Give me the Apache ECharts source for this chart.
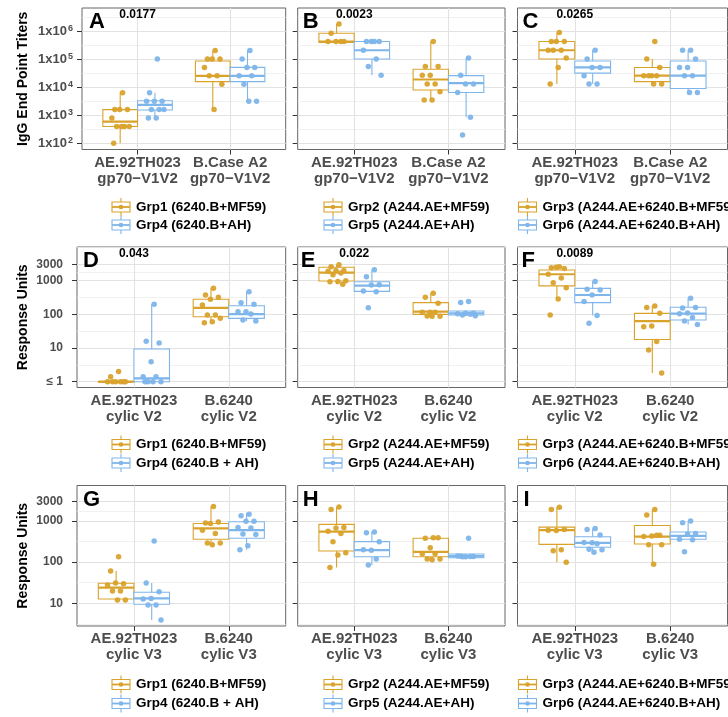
<!DOCTYPE html>
<html>
<head>
<meta charset="utf-8">
<script src="https://cdn.jsdelivr.net/npm/echarts@6/dist/echarts.min.js"></script>
<style>
html,body{margin:0;padding:0;background:#fff;}
#chart{width:728px;height:717px;}
</style>
</head>
<body>
<div id="chart"></div>
<script>
// ---- categories and axis ticks ----
const catsRow1 = ['AE.92TH023\ngp70\u2212V1V2', 'B.Case A2\ngp70\u2212V1V2'];
const catsRow2 = ['AE.92TH023\ncylic V2', 'B.6240\ncylic V2'];
const catsRow3 = ['AE.92TH023\ncylic V3', 'B.6240\ncylic V3'];

const ticksRow1 = [100, 1000, 10000, 100000, 1000000];
const tickExpRow1 = ['2', '3', '4', '5', '6'];
const ticksRow2 = [1, 10, 100, 1000, 3000];
const tickLabelsRow2 = ['\u2264 1', '10', '100', '1000', '3000'];
const ticksRow3 = [10, 100, 1000, 3000];
const tickLabelsRow3 = ['10', '100', '1000', '3000'];

// ---- group names (legend) ----
const namesCol1Row1 = ['Grp1 (6240.B+MF59)', 'Grp4 (6240.B+AH)'];
const namesCol1 = ['Grp1 (6240.B+MF59)', 'Grp4 (6240.B + AH)'];
const namesCol2 = ['Grp2 (A244.AE+MF59)', 'Grp5 (A244.AE+AH)'];
const namesCol3 = ['Grp3 (A244.AE+6240.B+MF59)', 'Grp6 (A244.AE+6240.B+AH)'];

// ---- p-values ----
const pValues = { A: '0.0177', B: '0.0023', C: '0.0265', D: '0.043', E: '0.022', F: '0.0089' };

// ---- box statistics per category: [lower whisker, Q1, median, Q3, upper whisker] ----
// ---- and individual animal values per category ----
// Panel A: IgG end point titers
const boxA1 = [[100, 400, 600, 1600, 6400], [1600, 16000, 25600, 87000, 204800]];
const ptsA1 = [[6400, 1600, 1600, 1600, 800, 400, 400, 400, 400, 100],
               [204800, 102400, 102400, 102400, 51200, 25600, 25600, 12800, 1600]];
const boxA4 = [[800, 1550, 2350, 3300, 6400], [3200, 16000, 25600, 51200, 204800]];
const ptsA4 = [[102400, 6400, 3200, 3200, 3200, 1600, 1600, 1600, 800, 800],
               [204800, 102400, 51200, 51200, 25600, 25600, 12800, 3200, 3200]];
// Panel B
const boxB2 = [[400000, 400000, 430000, 850000, 1800000], [3500, 8000, 19000, 44000, 430000]];
const ptsB2 = [[1800000, 850000, 430000, 430000, 430000, 430000],
               [430000, 55000, 55000, 27000, 27000, 13000, 13000, 6900, 3500, 3500]];
const boxB5 = [[27000, 102000, 210000, 430000, 430000], [850, 6500, 14000, 26000, 110000]];
const ptsB5 = [[430000, 430000, 430000, 430000, 210000, 102000, 55000, 27000],
               [110000, 27000, 13000, 13000, 6500, 850, 200]];
// Panel C
const boxC3 = [[13000, 102000, 210000, 430000, 910000], [13000, 16000, 26000, 51000, 102000]];
const ptsC3 = [[910000, 430000, 430000, 430000, 210000, 210000, 210000, 110000, 51000, 13000],
               [430000, 102000, 51000, 26000, 26000, 26000, 26000, 13000, 13000]];
const boxC6 = [[13000, 32000, 51000, 87000, 210000], [6500, 9100, 26000, 87000, 210000]];
const ptsC6 = [[210000, 102000, 51000, 51000, 26000, 13000, 13000],
               [210000, 210000, 102000, 51000, 51000, 26000, 26000, 6500, 6500]];
// Panel D: response units, cyclic V2
const boxD1 = [[1, 1, 1, 1, 1], [56, 85, 156, 280, 600]];
const ptsD1 = [[2, 1.4, 1, 1, 1, 1, 1, 1],
               [600, 375, 320, 280, 190, 95, 95, 76, 60, 56]];
const boxD4 = [[1, 1, 1.26, 9.4, 200], [63, 76, 102, 180, 470]];
const ptsD4 = [[200, 16, 14, 3.9, 1.4, 1.4, 1, 1, 1, 1],
               [470, 220, 200, 120, 120, 102, 68, 63]];
// Panel E
const boxE2 = [[780, 980, 1730, 2500, 2950], [88, 100, 120, 223, 425]];
const ptsE2 = [[2950, 2600, 2000, 2000, 1900, 1700, 1500, 1000, 950, 930, 780],
               [425, 320, 213, 115, 115, 115, 90, 88, 88]];
const boxE5 = [[470, 480, 710, 930, 2100], [90, 96, 107, 126, 126]];
const ptsE5 = [[2100, 1300, 760, 740, 490, 470, 158],
               [240, 225, 107, 107, 105, 100, 95, 91]];
// Panel F
const boxF3 = [[288, 700, 1550, 2080, 2600], [1.8, 18, 63, 107, 178]];
const ptsF3 = [[2600, 2400, 2300, 2500, 1550, 1200, 870, 620, 288, 96],
               [178, 160, 107, 45, 43, 15.5, 8.7, 1.8]];
const boxF6 = [[93, 223, 375, 590, 950], [50, 68, 105, 162, 300]];
const ptsF6 = [[950, 560, 530, 375, 240, 93, 54],
               [300, 155, 160, 110, 105, 80, 63, 50]];
// Panel G: response units, cyclic V3
const boxG1 = [[12, 12.7, 24, 30.6, 61], [265, 360, 660, 870, 2250]];
const ptsG1 = [[135, 61, 30, 31, 28, 20, 20, 12, 12],
               [2250, 890, 950, 870, 600, 500, 290, 290, 265]];
const boxG4 = [[3.9, 9.5, 13.2, 18.5, 31], [200, 380, 600, 960, 1550]];
const ptsG4 = [[325, 31, 19, 13, 12.7, 9.1, 9.1, 3.9],
               [1450, 1350, 980, 980, 700, 680, 480, 470, 250, 200]];
// Panel H
const boxH2 = [[74, 187, 550, 830, 2200], [115, 135, 178, 380, 400]];
const ptsH2 = [[2200, 1900, 700, 680, 560, 500, 315, 170, 150, 74],
               [390, 380, 390, 225, 160, 160, 120, 120, 115]];
const boxH5 = [[85, 135, 195, 315, 540], [128, 128, 140, 158, 158]];
const ptsH5 = [[540, 520, 315, 195, 200, 120, 85],
               [380, 140, 138, 135, 142, 138, 136]];
// Panel I
const boxI3 = [[100, 270, 600, 710, 2150], [89, 277, 415, 780, 1900]];
const ptsI3 = [[2150, 1900, 620, 590, 600, 200, 190, 100],
               [1900, 1400, 450, 430, 420, 450, 265, 265, 89]];
const boxI6 = [[175, 230, 295, 415, 660], [360, 360, 435, 540, 1000]];
const ptsI6 = [[660, 620, 460, 295, 300, 280, 205, 200, 175],
               [1000, 910, 500, 480, 360, 350, 178]];

// ---- styling and layout ----
const FONT = '"Liberation Sans", Arial, Helvetica, sans-serif';
const ORANGE = '#D9A22B';
const BLUE = '#7EB5EA';
const COLORS = [ORANGE, BLUE];
const BOX_W = 0.375, DODGE = 0.1875, JIT = 0.11;
const L = Math.log10;

function minorBreaks(majors, min, max) {
  const b = majors.slice();
  const bd = b[1] - b[0];
  if (min < b[0]) b.unshift(b[0] - bd);
  if (max > b[b.length - 1]) b.push(b[b.length - 1] + bd);
  const out = [];
  for (let k = 0; k < b.length - 1; k++) {
    const m = (b[k] + b[k + 1]) / 2;
    if (m > min && m < max) out.push(m);
  }
  return out;
}

const rows = [
  { top: 8, height: 141.5, min: 1.78, max: 6.83, ticks: ticksRow1.map(L), cats: catsRow1,
    title: 'IgG End Point Titers', labelMargin: 9, nameGap: 52,
    fmt: v => { const i = ticksRow1.map(L).findIndex(t => Math.abs(t - v) < 1e-6); return '{b|1x10}{s|' + tickExpRow1[i] + '}'; } },
  { top: 247, height: 140.5, min: -0.172, max: 4.0, ticks: ticksRow2.map(L), cats: catsRow2,
    title: 'Response Units', labelMargin: 14, nameGap: 47,
    fmt: v => { const i = ticksRow2.map(L).findIndex(t => Math.abs(t - v) < 1e-6); return '{n|' + tickLabelsRow2[i] + '}'; } },
  { top: 485.5, height: 140.5, min: 0.448, max: 3.863, ticks: ticksRow3.map(L), cats: catsRow3,
    title: 'Response Units', labelMargin: 14, nameGap: 47,
    fmt: v => { const i = ticksRow3.map(L).findIndex(t => Math.abs(t - v) < 1e-6); return '{n|' + tickLabelsRow3[i] + '}'; } }
];
const colLeft = [[82, 77, 77], [297.7, 297.7, 297.7], [517.5, 517.5, 517.5]];
const colRight = [285.7, 505, 727.5];
const legendKeyX = [121, 333, 527.5];
const legendY = [[207, 225], [444.5, 463], [684.5, 703.5]];

const panels = [
  { id: 'A', row: 0, col: 0, names: namesCol1Row1, boxes: [boxA1, boxA4], pts: [ptsA1, ptsA4], dx: 7 },
  { id: 'B', row: 0, col: 1, names: namesCol2, boxes: [boxB2, boxB5], pts: [ptsB2, ptsB5], dx: 5 },
  { id: 'C', row: 0, col: 2, names: namesCol3, boxes: [boxC3, boxC6], pts: [ptsC3, ptsC6], dx: 5 },
  { id: 'D', row: 1, col: 0, names: namesCol1, boxes: [boxD1, boxD4], pts: [ptsD1, ptsD4], dx: 6 },
  { id: 'E', row: 1, col: 1, names: namesCol2, boxes: [boxE2, boxE5], pts: [ptsE2, ptsE5], dx: 3 },
  { id: 'F', row: 1, col: 2, names: namesCol3, boxes: [boxF3, boxF6], pts: [ptsF3, ptsF6], dx: 4 },
  { id: 'G', row: 2, col: 0, names: namesCol1, boxes: [boxG1, boxG4], pts: [ptsG1, ptsG4], dx: 6 },
  { id: 'H', row: 2, col: 1, names: namesCol2, boxes: [boxH2, boxH5], pts: [ptsH2, ptsH5], dx: 5 },
  { id: 'I', row: 2, col: 2, names: namesCol3, boxes: [boxI3, boxI6], pts: [ptsI3, ptsI6], dx: 6 }
];

// deterministic horizontal spread for overlapping animals
function jitter(i) {
  return ((((i + 1) * 0.6180339887) % 1) - 0.5) * 2 * JIT;
}

function boxRenderer(off, color) {
  return function (params, api) {
    const x = api.value(0) + off;
    const pLo = api.coord([x, api.value(1)]);
    const pQ1 = api.coord([x, api.value(2)]);
    const pMed = api.coord([x, api.value(3)]);
    const pQ3 = api.coord([x, api.value(4)]);
    const pHi = api.coord([x, api.value(5)]);
    const w = api.size([BOX_W, 0])[0];
    const cx = pMed[0];
    const thin = { stroke: color, lineWidth: 1.1, fill: null };
    return {
      type: 'group',
      children: [
        { type: 'line', shape: { x1: cx, y1: pQ3[1], x2: cx, y2: pHi[1] }, style: thin },
        { type: 'line', shape: { x1: cx, y1: pQ1[1], x2: cx, y2: pLo[1] }, style: thin },
        { type: 'rect', shape: { x: cx - w / 2, y: pQ3[1], width: w, height: Math.max(pQ1[1] - pQ3[1], 0.5) },
          style: { fill: '#ffffff', stroke: color, lineWidth: 1.1 } },
        { type: 'line', shape: { x1: cx - w / 2, y1: pMed[1], x2: cx + w / 2, y2: pMed[1] },
          style: { stroke: color, lineWidth: 2.2 } }
      ]
    };
  };
}

const option = {
  animation: false,
  backgroundColor: '#ffffff',
  textStyle: { fontFamily: FONT },
  grid: [], xAxis: [], yAxis: [], series: []
};

panels.forEach((p, i) => {
  const r = rows[p.row];
  const left = colLeft[p.col][p.row];
  const width = colRight[p.col] - left;
  option.grid.push({ left: left, top: r.top, width: width, height: r.height, show: true,
    backgroundColor: '#ffffff', borderColor: '#666666', borderWidth: 1, z: 0 });

  option.xAxis.push({
    gridIndex: i, type: 'value', min: 0.4, max: 2.6,
    axisLine: { show: false }, splitLine: { show: false },
    axisTick: { show: true, customValues: [1, 2], length: 5, lineStyle: { color: '#333', width: 1 } },
    axisLabel: { customValues: [1, 2], formatter: v => r.cats[Math.round(v) - 1], margin: 5,
      fontSize: 15, fontWeight: 'bold', color: '#4D4D4D', lineHeight: 16, fontFamily: FONT }
  });

  const isFirst = p.col === 0;
  option.yAxis.push({
    gridIndex: i, type: 'value', min: r.min, max: r.max,
    axisLine: { show: false }, splitLine: { show: false },
    axisTick: { show: true, customValues: r.ticks, length: 5, lineStyle: { color: '#333', width: 1 } },
    axisLabel: { show: isFirst, customValues: r.ticks, formatter: r.fmt, margin: r.labelMargin,
      rich: {
        b: { fontSize: 13, fontWeight: 'bold', color: '#4D4D4D', lineHeight: 14, fontFamily: FONT },
        s: { fontSize: 9, fontWeight: 'bold', color: '#4D4D4D', lineHeight: 10, verticalAlign: 'top', padding: [0, 0, 0, 1], fontFamily: FONT },
        n: { fontSize: 12, fontWeight: 'bold', color: '#4D4D4D', fontFamily: FONT }
      } },
    name: isFirst ? r.title : '',
    nameLocation: 'middle', nameRotate: 90, nameGap: r.nameGap,
    nameTextStyle: { fontSize: 14, fontWeight: 'bold', color: '#000', fontFamily: FONT }
  });

  // panel grid lines: major / minor horizontal, major vertical at categories
  const lines = [];
  r.ticks.forEach(v => lines.push({ yAxis: v, lineStyle: { color: '#E2E2E2', width: 1.1, type: 'solid' } }));
  minorBreaks(r.ticks, r.min, r.max).forEach(v => lines.push({ yAxis: v, lineStyle: { color: '#EDEDED', width: 0.8, type: 'solid' } }));
  [1, 2].forEach(v => lines.push({ xAxis: v, lineStyle: { color: '#E2E2E2', width: 1.1, type: 'solid' } }));
  option.series.push({
    type: 'line', xAxisIndex: i, yAxisIndex: i, data: [], silent: true, z: 1,
    markLine: { silent: true, symbol: ['none', 'none'], label: { show: false }, animation: false,
      z: 1, emphasis: { disabled: true }, data: lines }
  });

  // boxes
  p.boxes.forEach((box, gi) => {
    const off = gi === 0 ? -DODGE : DODGE;
    option.series.push({
      type: 'custom', name: p.names[gi], xAxisIndex: i, yAxisIndex: i, z: 3, silent: true,
      data: box.map((b, c) => [c + 1].concat(b.map(L))),
      encode: { x: 0, y: [1, 2, 3, 4, 5] },
      renderItem: boxRenderer(off, COLORS[gi])
    });
  });
  // individual animals
  p.pts.forEach((cats, gi) => {
    const off = gi === 0 ? -DODGE : DODGE;
    const data = [];
    cats.forEach((vals, c) => vals.forEach((v, k) => data.push([c + 1 + off + jitter(k), L(v)])));
    option.series.push({
      type: 'scatter', name: p.names[gi], xAxisIndex: i, yAxisIndex: i, z: 4, silent: true,
      symbolSize: 5.5, itemStyle: { color: COLORS[gi], opacity: 0.95 }, data: data
    });
  });
});

const chart = echarts.init(document.getElementById('chart'), null, { renderer: 'canvas' });
chart.setOption(option);

// panel tags, p-values and per-panel legends
const gfx = [];
panels.forEach((p, i) => {
  const r = rows[p.row];
  const g = option.grid[i];
  gfx.push({ type: 'text', x: g.left + p.dx, y: g.top + 3, z: 20,
    style: { text: p.id, font: 'bold 22px ' + FONT, fill: '#000', align: 'left', verticalAlign: 'top' } });
  if (pValues[p.id]) {
    const px = chart.convertToPixel({ gridIndex: i }, [1, r.max])[0];
    gfx.push({ type: 'text', x: px, y: g.top + 7, z: 20,
      style: { text: pValues[p.id], font: 'bold 12px ' + FONT, fill: '#000', align: 'center', verticalAlign: 'middle' } });
  }
  p.names.forEach((nm, gi) => {
    const kx = legendKeyX[p.col], ky = legendY[p.row][gi], col = COLORS[gi];
    gfx.push({ type: 'group', x: kx, y: ky, z: 20, children: [
      { type: 'line', shape: { x1: 0, y1: -9, x2: 0, y2: 9 }, style: { stroke: col, lineWidth: 1.1 } },
      { type: 'rect', shape: { x: -9, y: -5, width: 18, height: 10 }, style: { fill: '#fff', stroke: col, lineWidth: 1.1 } },
      { type: 'line', shape: { x1: -9, y1: 0, x2: 9, y2: 0 }, style: { stroke: col, lineWidth: 1.8 } },
      { type: 'circle', shape: { cx: 0, cy: 0, r: 2.3 }, style: { fill: col } }
    ] });
    gfx.push({ type: 'text', x: kx + 15, y: ky, z: 20,
      style: { text: nm, font: 'bold 13.5px ' + FONT, fill: '#000', align: 'left', verticalAlign: 'middle' } });
  });
});
chart.setOption({ graphic: gfx });
</script>
</body>
</html>
